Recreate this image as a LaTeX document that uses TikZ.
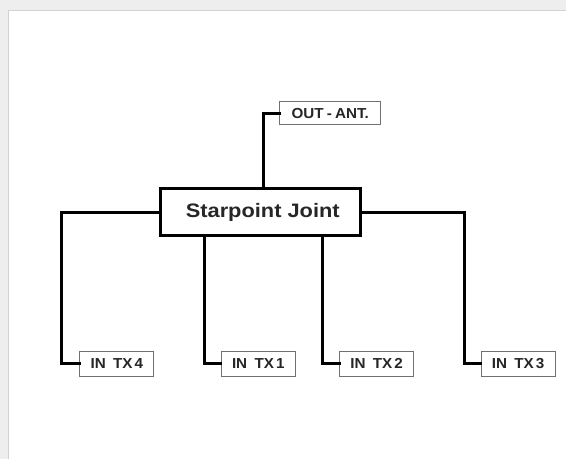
\documentclass[tikz,border=0pt]{standalone}
\usepackage{fontspec}
\setmainfont{Liberation Sans}
\usepackage{tikz}

\definecolor{framegray}{HTML}{EEEEEE}
\definecolor{edgegray}{HTML}{D2D2D2}
\definecolor{boxgray}{HTML}{707070}

\tikzset{
  wire/.style={draw=black, line width=3pt, line join=miter, line cap=rect},
  portbox/.style={draw=boxgray, line width=0.9pt, fill=white, inner sep=0pt,
    minimum width=74pt, minimum height=25pt,
    font=\fontsize{14.5}{14.5}\selectfont\bfseries, text=black!85},
  joint/.style={draw=black, line width=3pt, fill=white, inner sep=0pt,
    minimum width=200pt, minimum height=47pt,
    font=\fontsize{19.5}{19.5}\selectfont\bfseries, text=black!85}
}

\begin{document}
\begin{tikzpicture}[x=1pt,y=-1pt]
            % frame
            \fill [framegray] (0,0) rectangle (566,459);
            \fill [white] (8,10) rectangle (566,459);
            \draw [edgegray, line width=1pt] (8.5,459) -- (8.5,10.5) -- (566,10.5);
            \useasboundingbox (0,0) rectangle (566,459);
            % nodes
            \node [joint] (star) at (261,212.5) {\hspace{4pt}\scalebox{1.12}[1]{Starpoint Joint}};
            \node [portbox, minimum width=101pt, minimum height=23pt] (out) at (330.5,113.5) {\scalebox{1.05}[1]{OUT\hspace{3pt}-\hspace{3pt}ANT.}};
            \node [portbox] (tx4) at (117,364) {\scalebox{1.05}[1]{IN\hspace{7pt}TX\hspace{2pt}4}};
            \node [portbox] (tx1) at (258.5,364) {\scalebox{1.05}[1]{IN\hspace{7pt}TX\hspace{2pt}1}};
            \node [portbox] (tx2) at (377,364) {\scalebox{1.05}[1]{IN\hspace{7pt}TX\hspace{2pt}2}};
            \node [portbox] (tx3) at (518.5,364) {\scalebox{1.05}[1]{IN\hspace{7pt}TX\hspace{2pt}3}};
            % bends of the wires
            \coordinate (k4) at ([xshift=-18pt]tx4.west);
            \coordinate (k1) at ([xshift=-16pt]tx1.west);
            \coordinate (k2) at ([xshift=-17pt]tx2.west);
            \coordinate (k3) at ([xshift=-16pt]tx3.west);
            \coordinate (ko) at ([xshift=3pt]star.north);
            % wires
            \draw [wire] (ko) |- (out.west);
            \draw [wire] (star.west) -| (k4) -- (tx4.west);
            \draw [wire] (star.south -| k1) |- (tx1.west);
            \draw [wire] (star.south -| k2) |- (tx2.west);
            \draw [wire] (star.east) -| (k3) -- (tx3.west);
            % boxes on top again
            \node [joint] at (star) {\hspace{4pt}\scalebox{1.12}[1]{Starpoint Joint}};
\end{tikzpicture}
\end{document}
